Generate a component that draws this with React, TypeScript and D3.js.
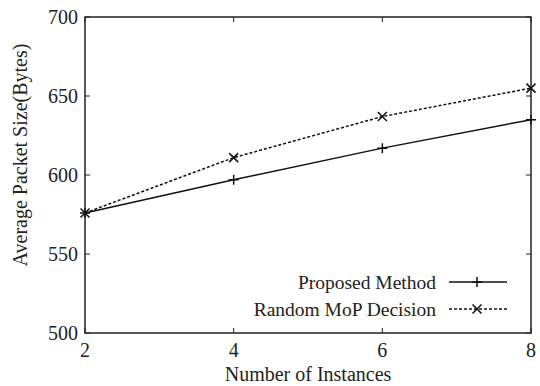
import React from 'react';
import * as d3 from 'd3';

const instances = [2, 4, 6, 8];
const proposed = [576, 597, 617, 635];
const randomMop = [576, 611, 637, 655];
const yTicks = [500, 550, 600, 650, 700];

const W = 540;
const H = 386;
const m = { top: 17, right: 9, bottom: 53, left: 85 };
const font = '"Liberation Serif", "Times New Roman", serif';

function plusPath(x: number, y: number, s = 5) {
  return `M${x - s},${y}H${x + s}M${x},${y - s}V${y + s}`;
}
function crossPath(x: number, y: number, s = 4.5) {
  return `M${x - s},${y - s}L${x + s},${y + s}M${x - s},${y + s}L${x + s},${y - s}`;
}

export default function App() {
  const x = d3.scaleLinear().domain([2, 8]).range([m.left, W - m.right]);
  const y = d3.scaleLinear().domain([500, 700]).range([H - m.bottom, m.top]);
  const line = d3.line<number>()
    .x((_, i) => x(instances[i]))
    .y(d => y(d));

  const x0 = x(2), x1 = x(8), y0 = y(500), y1 = y(700);
  const tick = 5;
  const stroke = '#222';

  // legend
  const legTextX = 436;
  const legLineX0 = 449, legLineX1 = 507;
  const legMid = (legLineX0 + legLineX1) / 2 - 1;
  const legY = [282, 309];

  return (
    <svg width={W} height={H} style={{ position: 'absolute', left: 0, top: 0 }}
      fontFamily={font}>
      <rect width={W} height={H} fill="#fff" />
      {/* ticks */}
      {yTicks.map(v => (
        <g key={'y' + v}>
          <line x1={x0} x2={x0 + tick} y1={y(v)} y2={y(v)} stroke={stroke} strokeWidth={1} />
          <line x1={x1} x2={x1 - tick} y1={y(v)} y2={y(v)} stroke={stroke} strokeWidth={1} />
          <text x={x0 - 7} y={y(v)} dy="0.35em" textAnchor="end" fontSize={20} fill="#222">{v}</text>
        </g>
      ))}
      {instances.map(v => (
        <g key={'x' + v}>
          <line x1={x(v)} x2={x(v)} y1={y0} y2={y0 - tick} stroke={stroke} strokeWidth={1} />
          <line x1={x(v)} x2={x(v)} y1={y1} y2={y1 + tick} stroke={stroke} strokeWidth={1} />
          <text x={x(v)} y={y0 + 24} textAnchor="middle" fontSize={20} fill="#222">{v}</text>
        </g>
      ))}
      {/* frame */}
      <rect x={x0} y={y1} width={x1 - x0} height={y0 - y1} fill="none" stroke={stroke} strokeWidth={1.5} />

      {/* series */}
      <path d={line(proposed) || ''} fill="none" stroke="#111" strokeWidth={1.5} />
      <path d={line(randomMop) || ''} fill="none" stroke="#111" strokeWidth={1.5} strokeDasharray="3,2" />
      {proposed.map((v, i) => (
        <path key={'p' + i} d={plusPath(x(instances[i]), y(v))} stroke="#111" strokeWidth={1.5} />
      ))}
      {randomMop.map((v, i) => (
        <path key={'r' + i} d={crossPath(x(instances[i]), y(v))} stroke="#111" strokeWidth={1.5} />
      ))}

      {/* legend */}
      <text x={legTextX} y={legY[0]} dy="0.35em" textAnchor="end" fontSize={19.5} fill="#222">Proposed Method</text>
      <line x1={legLineX0} x2={legLineX1} y1={legY[0]} y2={legY[0]} stroke="#111" strokeWidth={1.5} />
      <path d={plusPath(legMid, legY[0])} stroke="#111" strokeWidth={1.5} />
      <text x={legTextX} y={legY[1]} dy="0.35em" textAnchor="end" fontSize={19.5} fill="#222">Random MoP Decision</text>
      <line x1={legLineX0} x2={legLineX1} y1={legY[1]} y2={legY[1]} stroke="#111" strokeWidth={1.5} strokeDasharray="3,2" />
      <path d={crossPath(legMid, legY[1])} stroke="#111" strokeWidth={1.5} />

      {/* axis titles */}
      <text x={308} y={H - 5} textAnchor="middle" fontSize={20} fill="#222">Number of Instances</text>
      <text transform={`translate(27,155) rotate(-90)`} textAnchor="middle" fontSize={20} fill="#222">
        Average Packet Size(Bytes)
      </text>
    </svg>
  );
}
